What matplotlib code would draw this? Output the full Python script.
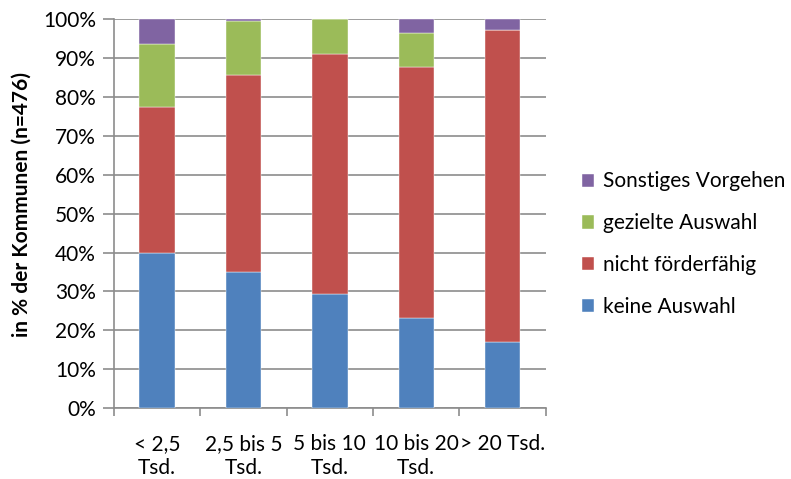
import matplotlib.pyplot as plt
import numpy as np

categories = ["< 2,5\nTsd.", "2,5 bis 5\nTsd.", "5 bis 10\nTsd.", "10 bis 20\nTsd.", "> 20 Tsd."]
keine_auswahl = [40.0, 35.1, 29.3, 23.1, 17.1]
nicht_foerderfaehig = [37.5, 50.5, 61.7, 64.6, 80.2]
gezielte_auswahl = [16.2, 14.0, 9.0, 8.7, 0.0]
sonstiges = [6.3, 0.4, 0.0, 3.6, 2.7]

series = [
    ("keine Auswahl", keine_auswahl, "#4F81BD"),
    ("nicht förderfähig", nicht_foerderfaehig, "#C0504D"),
    ("gezielte Auswahl", gezielte_auswahl, "#9BBB59"),
    ("Sonstiges Vorgehen", sonstiges, "#8064A2"),
]


def main():
    plt.rcParams["font.family"] = ["Lato", "DejaVu Sans"]
    fig = plt.figure(figsize=(7.91, 4.79), dpi=100)
    ax = fig.add_axes([0.144, 0.148, 0.546, 0.812])

    x = np.arange(len(categories))
    bottom = np.zeros(len(categories))
    handles = []
    for label, values, color in series:
        bars = ax.bar(x, values, width=0.41, bottom=bottom, color=color,
                      label=label, zorder=3, edgecolor="white", linewidth=0.3)
        handles.append(bars)
        bottom += np.array(values)

    ax.set_xlim(-0.5, len(categories) - 0.5)
    ax.set_ylim(0, 100)
    ax.set_yticks(np.arange(0, 101, 10))
    ax.set_yticklabels([f"{v}%" for v in range(0, 101, 10)], fontsize=15)
    ax.yaxis.grid(True, color="#8c8c8c", linewidth=1.2, zorder=0)

    # category boundaries as x ticks
    ax.set_xticks(np.arange(-0.5, len(categories), 1.0))
    ax.set_xticklabels([])
    ax.set_xticks(x, minor=True)
    ax.set_xticklabels(categories, minor=True, fontsize=15, linespacing=1.25)
    ax.tick_params(axis="x", which="minor", length=0, pad=19)
    ax.tick_params(axis="x", which="major", length=6, color="#8c8c8c", width=1.2)
    ax.tick_params(axis="y", length=8, color="#8c8c8c", width=1.2, pad=5)

    for side in ["top", "right"]:
        ax.spines[side].set_visible(False)
    for side in ["left", "bottom"]:
        ax.spines[side].set_color("#8c8c8c")
        ax.spines[side].set_linewidth(1.2)

    ax.set_ylabel("in % der Kommunen (n=476)", fontsize=15, fontweight="bold")
    ax.yaxis.set_label_coords(-0.19, 0.524)

    fig.legend(handles[::-1], [s[0] for s in series][::-1], loc="center left",
               bbox_to_anchor=(0.712, 0.49), frameon=False, fontsize=15,
               handlelength=0.6, handleheight=0.6, labelspacing=1.05,
               handletextpad=0.4)

    fig.savefig("out.png", dpi=100)


if __name__ == "__main__":
    main()
